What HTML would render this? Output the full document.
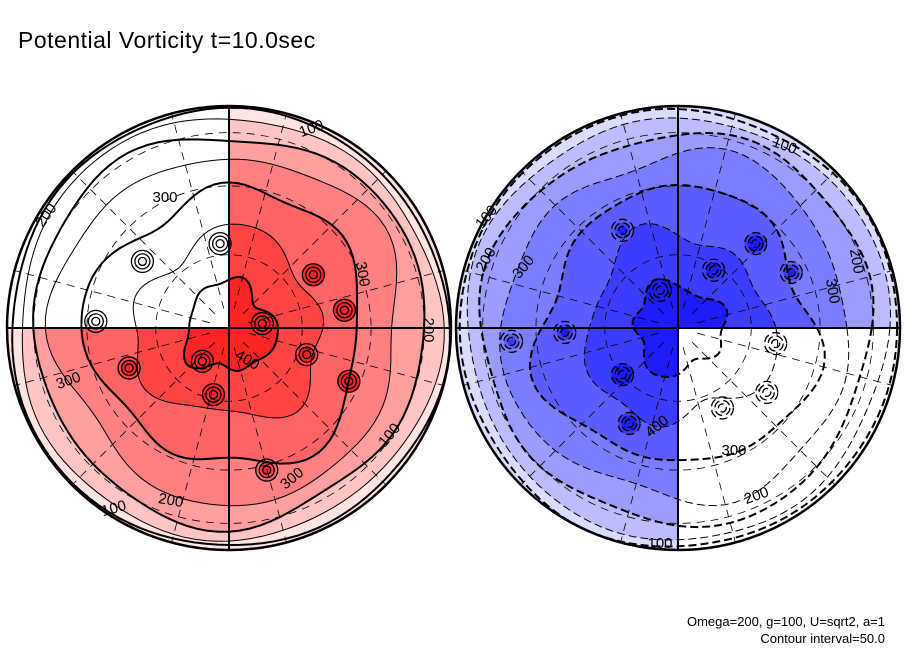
<!DOCTYPE html>
<html><head><meta charset="utf-8"><style>
html,body{margin:0;padding:0;background:#fff;}
svg{display:block;font-family:"Liberation Sans",sans-serif;}
</style></head><body>
<svg id="chart" width="904" height="654" viewBox="0 0 904 654">
<text x="18" y="48" font-size="23" letter-spacing="0.5">Potential Vorticity t=10.0sec</text>
<text x="885" y="626" font-size="13" text-anchor="end">Omega=200, g=100, U=sqrt2, a=1</text>
<text x="885" y="643" font-size="13" text-anchor="end">Contour interval=50.0</text>
<defs>
 <clipPath id="cL"><circle cx="229" cy="328" r="222"/></clipPath>
 <clipPath id="cR"><circle cx="678" cy="328" r="222"/></clipPath>
 <clipPath id="qL"><path d="M229,100 H460 V560 H0 V328 H229 Z"/></clipPath>
 <clipPath id="qR"><path d="M450,100 H904 V328 H678 V560 H450 Z"/></clipPath>
</defs>
<g id="left"></g>
<g id="right"></g>
</svg>
<script>
// contour levels (absolute PV) and their mean radius (fraction of disc radius)
const levels = [100, 150, 200, 250, 300, 350, 400];
const levelRadius = [0.985, 0.95, 0.88, 0.78, 0.62, 0.42, 0.2];
const redFills = ["#ffe4e4","#ffc4c4","#ffa0a0","#ff8080","#ff6464","#ff4444","#ff2424"];
const blueFills = ["#dcdcff","#bcbcff","#9c9cff","#7c7cff","#5c5cff","#3c3cff","#1c1cff"];
// vortex spots: x, y as fraction of radius, level index
const spotsLX = [-0.04,-0.39,-0.60,0.38,0.52,0.15,-0.45,-0.07,0.35,0.54,0.17,-0.12];
const spotsLY = [-0.38,-0.30,-0.03,-0.24,-0.08,-0.02,0.18,0.30,0.12,0.24,0.64,0.15];
const spotsLL = [5,4,4,6,6,6,5,6,5,6,4,6];
const spotsRX = [-0.25,0.16,0.35,0.51,0.44,-0.08,-0.51,-0.25,-0.22,0.40,0.20,-0.75];
const spotsRY = [-0.44,-0.26,-0.38,-0.25,0.07,-0.17,0.02,0.21,0.43,0.29,0.36,0.06];
const spotsRL = [4,5,5,4,4,6,4,6,5,4,4,3];
const NS="http://www.w3.org/2000/svg";
function el(t,a,p){const e=document.createElementNS(NS,t);for(const k in a)e.setAttribute(k,a[k]);p.appendChild(e);return e;}
function ring(cx,cy,R,i,seed){
  let d="";
  for(let s=0;s<=120;s++){
    const th=s/120*2*Math.PI;
    const w=(1-levelRadius[i])*0.3+0.01;
    const r=R*levelRadius[i]*(1+w*(0.5*Math.sin(3*th+seed+i)+0.35*Math.sin(5*th+2*seed-i)+0.2*Math.sin(7*th+i*1.7)));
    d+=(s?"L":"M")+(cx+r*Math.cos(th)).toFixed(1)+","+(cy+r*Math.sin(th)).toFixed(1);
  }
  return d+"Z";
}
function hemi(g,cx,cy,fills,clipQ,clipC,dash,sx,sy,sl,seed,labels){
  const R=222;
  const fillG=el("g",{"clip-path":"url(#"+clipQ+")"},g);
  const fg=el("g",{"clip-path":"url(#"+clipC+")"},fillG);
  el("circle",{cx,cy,r:R,fill:fills[0]},fg);
  const lineG=el("g",{"clip-path":"url(#"+clipC+")",fill:"none",stroke:"#000"},g);
  levels.forEach((v,i)=>{
    const d=ring(cx,cy,R,i,seed);
    const p=el("path",{d,fill:fills[i],stroke:"none"},fg);
    
    
    const l=el("path",{d,"stroke-width":(i%2==0?2:1),"stroke-dasharray":dash},lineG);
    
    
  });
  sx.forEach((x,k)=>{
    const px=cx+x*R,py=cy+sy[k]*R,li=sl[k];
    for(let j=0;j<3;j++){
      const c=el("circle",{cx:px,cy:py,r:11-j*3.5,fill:fills[Math.min(6,li+j)],stroke:"none"},fg);
      
      
      el("circle",{cx:px,cy:py,r:11-j*3.5,"stroke-width":1.3,"stroke-dasharray":dash},lineG);
    }
  });
  const grid=el("g",{stroke:"#000","stroke-width":0.8,"stroke-dasharray":"8,6",fill:"none","clip-path":"url(#"+clipC+")"},g);
  
  
  for(let a=15;a<360;a+=30){const t=a*Math.PI/180;el("line",{x1:cx+20*Math.cos(t),y1:cy+20*Math.sin(t),x2:cx+R*Math.cos(t),y2:cy+R*Math.sin(t)},grid);}
  [0.33,0.64,0.88].forEach(f=>el("circle",{cx,cy,r:R*f},grid));
  const ax=el("g",{stroke:"#000","stroke-width":2},g);
  
  
  el("line",{x1:cx-R,y1:cy,x2:cx+R,y2:cy},ax);
  el("line",{x1:cx,y1:cy-R,x2:cx,y2:cy+R},ax);
  const b=el("circle",{cx,cy,r:R,fill:"none",stroke:"#000","stroke-width":2.5},g);
  
  
  labels.forEach(L=>{
    const t=el("text",{x:L[0],y:L[1],"font-size":15,"text-anchor":"middle",transform:"rotate("+L[3]+" "+L[0]+" "+L[1]+")"},g);
    t.textContent=L[2];
    
    
  });
}
hemi(document.getElementById("left"),229,328,redFills,"qL","cL","none",spotsLX,spotsLY,spotsLL,0.7,
 [[313,133,"100",-20],[165,202,"300",0],[50,218,"200",-55],[358,275,"300",80],[424,330,"200",90],[245,364,"400",30],[70,385,"300",-20],[170,505,"200",10],[115,513,"100",-15],[393,438,"100",-50],[295,482,"300",-40]]);
hemi(document.getElementById("right"),678,328,blueFills,"qR","cR","8,4",spotsRX,spotsRY,spotsRL,2.1,
 [[783,150,"100",20],[490,220,"100",-50],[490,262,"200",-60],[527,270,"300",-50],[852,262,"200",80],[828,292,"300",80],[660,430,"400",-40],[734,455,"300",0],[758,500,"200",-20],[660,548,"100",0]]);
</script>
</body></html>
